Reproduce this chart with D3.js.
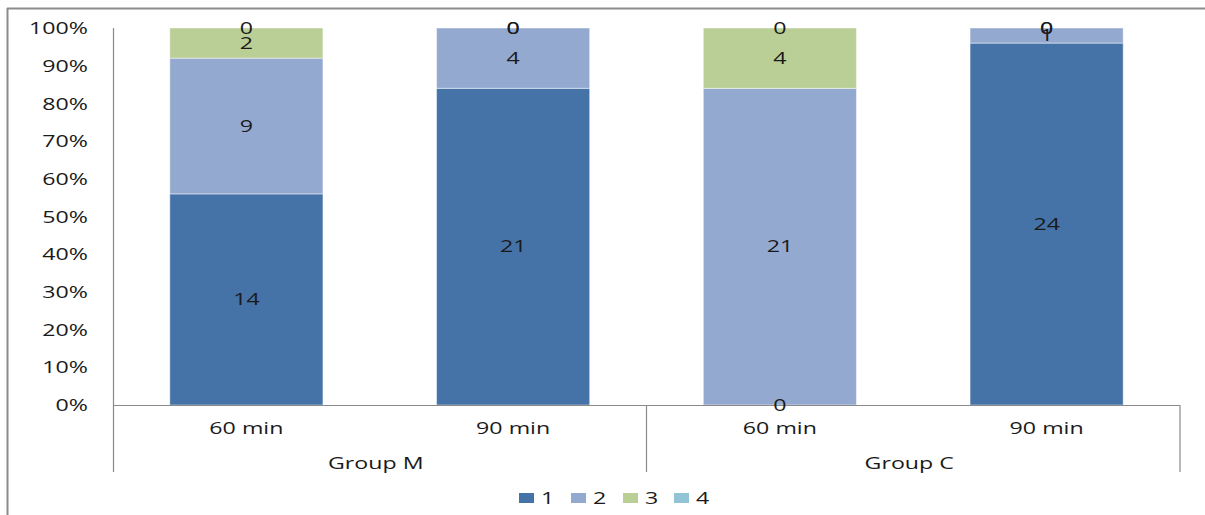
<!DOCTYPE html>
<html>
<head>
<meta charset="utf-8">
<script src="https://cdn.jsdelivr.net/npm/d3@7"></script>
<style>
  html, body { margin: 0; padding: 0; background: #fff; }
  svg { display: block; }
  text { font-family: "Open Sans", "DejaVu Sans", sans-serif; font-size: 16px; fill: #1a1a1a; }
</style>
</head>
<body>
<svg id="chart" width="1205" height="515"></svg>
<script>
// Categories: two groups, each measured at two time points
const groups = ["Group M", "Group C"];
const times = ["60 min", "90 min"];
const seriesKeys = ["1", "2", "3", "4"];

// Counts per score (1..4), one entry per group/time column
const score1 = [14, 21, 0, 24];
const score2 = [9, 4, 21, 1];
const score3 = [2, 0, 4, 0];
const score4 = [0, 0, 0, 0];

const yTicks = [0, 0.1, 0.2, 0.3, 0.4, 0.5, 0.6, 0.7, 0.8, 0.9, 1];
const colors = ["#4573a7", "#94a9d0", "#bacf96", "#93c4d6"];

const columns = [];
groups.forEach(g => times.forEach(t => columns.push({ group: g, time: t, id: g + "|" + t })));
const rows = columns.map((c, i) => ({
  id: c.id, "1": score1[i], "2": score2[i], "3": score3[i], "4": score4[i]
}));

const svg = d3.select("#chart");
const SX = 1.45; // horizontal text stretch

const plotLeft = 113, plotRight = 1180, plotTop = 28, plotBase = 405, catBottom = 472;

const x = d3.scaleBand().domain(columns.map(c => c.id)).range([plotLeft, plotRight])
  .paddingInner(0.426).paddingOuter(0.213);
const y = d3.scaleLinear().domain([0, 1]).range([plotBase, plotTop]);
const color = d3.scaleOrdinal().domain(seriesKeys).range(colors);

const stacked = d3.stack().keys(seriesKeys).offset(d3.stackOffsetExpand)(rows);

function label(g, px, py, str, anchor) {
  return g.append("text")
    .attr("transform", `translate(${px},${py}) scale(${SX},1)`)
    .attr("text-anchor", anchor || "middle")
    .attr("dy", "0.35em")
    .text(str);
}

// Outer frame (top and left edges)
svg.append("line").attr("x1", 7).attr("x2", 1205).attr("y1", 8.5).attr("y2", 8.5)
  .attr("stroke", "#8c8c8c").attr("stroke-width", 2);
svg.append("line").attr("x1", 7.5).attr("x2", 7.5).attr("y1", 8).attr("y2", 515)
  .attr("stroke", "#8c8c8c").attr("stroke-width", 2);

// Stacked bars
const layer = svg.append("g").selectAll("g").data(stacked).join("g")
  .attr("fill", d => color(d.key));
layer.selectAll("rect").data(d => d).join("rect")
  .attr("x", d => x(d.data.id))
  .attr("width", x.bandwidth())
  .attr("y", d => y(d[1]))
  .attr("height", d => y(d[0]) - y(d[1]))
  .attr("stroke", "rgba(255,255,255,0.45)")
  .attr("stroke-width", 1);

// Y axis
const yAxis = svg.append("g").attr("transform", `translate(${plotLeft},0)`)
  .call(d3.axisLeft(y).tickValues(yTicks).tickFormat(d3.format(".0%")).tickSize(0).tickPadding(0));
yAxis.select(".domain").remove();
yAxis.attr("font-family", null).attr("font-size", null);
yAxis.selectAll(".tick text")
  .attr("x", null).attr("dy", "0.35em")
  .attr("transform", `translate(-25,0) scale(${SX},1)`)
  .attr("text-anchor", "end")
  .attr("fill", "#1a1a1a");

// Axis lines and category separators
const axisStroke = "#8a8a8a";
svg.append("line").attr("x1", plotLeft + 0.5).attr("x2", plotLeft + 0.5).attr("y1", plotTop).attr("y2", catBottom)
  .attr("stroke", axisStroke).attr("stroke-width", 1.2);
svg.append("line").attr("x1", plotLeft).attr("x2", plotRight).attr("y1", plotBase + 0.5).attr("y2", plotBase + 0.5)
  .attr("stroke", axisStroke).attr("stroke-width", 1.2);

const groupBounds = groups.map(g => {
  const ids = columns.filter(c => c.group === g).map(c => c.id);
  const x0 = x(ids[0]) - x.step() * x.paddingInner() / 2;
  const x1 = x(ids[ids.length - 1]) + x.bandwidth() + x.step() * x.paddingInner() / 2;
  return { g, x0, x1 };
});
groupBounds.forEach(b => {
  svg.append("line").attr("x1", b.x1).attr("x2", b.x1).attr("y1", plotBase).attr("y2", catBottom)
    .attr("stroke", axisStroke).attr("stroke-width", 1.2);
});

// Category labels
const cats = svg.append("g");
columns.forEach(c => label(cats, x(c.id) + x.bandwidth() / 2, 428, c.time));
groupBounds.forEach(b => label(cats, (b.x0 + b.x1) / 2 - 4, 463, b.g));

// Data labels in the middle of each segment
const dl = svg.append("g");
stacked.forEach(s => {
  s.forEach(d => {
    label(dl, x(d.data.id) + x.bandwidth() / 2, y((d[0] + d[1]) / 2), d.data[s.key])
      .attr("fill", "#000");
  });
});

// Legend
const legendX = [519, 571, 623, 674];
const lg = svg.append("g");
seriesKeys.forEach((k, i) => {
  lg.append("rect").attr("x", legendX[i]).attr("y", 493).attr("width", 15).attr("height", 10)
    .attr("fill", color(k));
  label(lg, legendX[i] + 22, 498, k, "start");
});
</script>
</body>
</html>
